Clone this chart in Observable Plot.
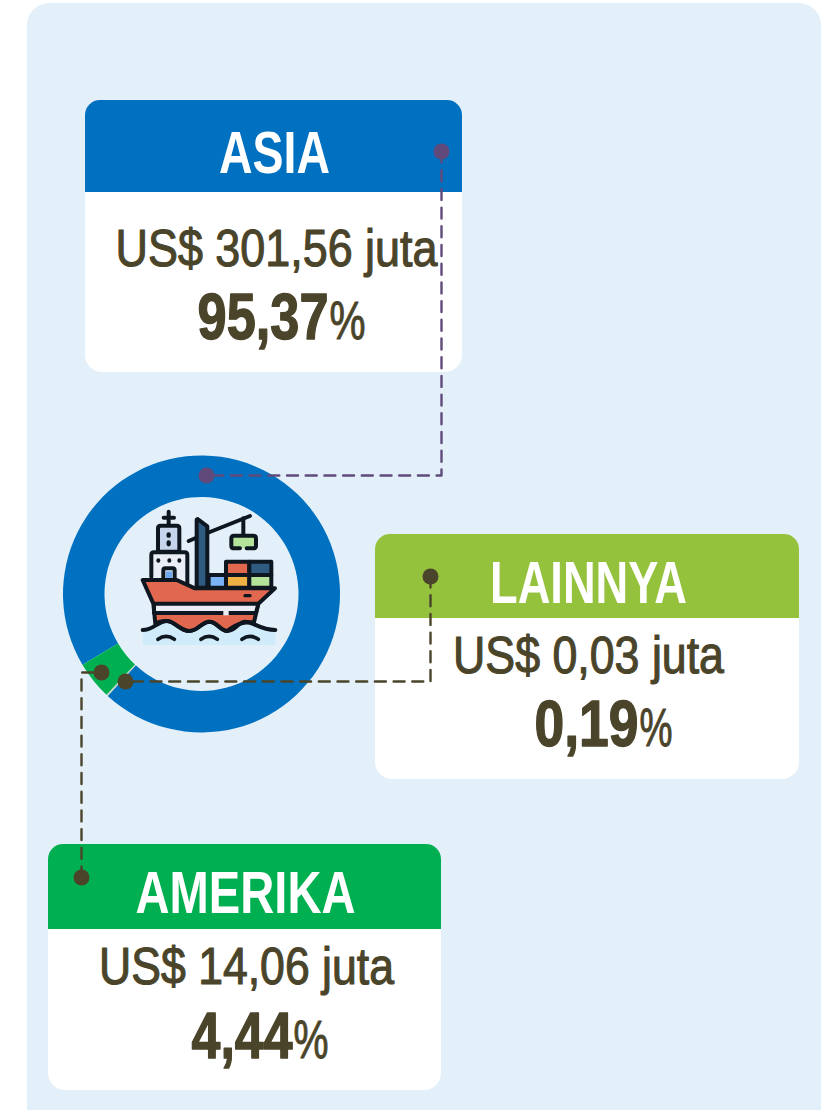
<!DOCTYPE html>
<html>
<head>
<meta charset="utf-8">
<style>
html,body{margin:0;padding:0;background:#fff;}
svg{display:block;}
</style>
<script src="https://cdn.jsdelivr.net/npm/d3@7"></script>
<script src="https://cdn.jsdelivr.net/npm/@observablehq/plot@0.6"></script>
</head>
<body>
<div id="chart"></div>
<script>
// --- chart values
const regions = ["ASIA", "LAINNYA", "AMERIKA"];
const amounts = ["US$ 301,56 juta", "US$ 0,03 juta", "US$ 14,06 juta"];
const percents = ["95,37", "0,19", "4,44"];
const shares = [95.37, 0.19, 4.44];

// --- styles
const colors = ["#0070c0", "#95c23d", "#00b050"];
const lineColors = ["#604a7b", "#4a442a", "#4a442a"];
const ink = "#4a442a";
const panelColor = "#e3f0fa";
const font = "'Liberation Sans',Arial,sans-serif";

// --- layout
const W = 821, H = 1110;
const cardX1 = [85, 375, 48], cardX2 = [462, 799, 441];
const cardY1 = [100, 534, 844], cardY2 = [372, 779, 1090];
const headY2 = [192, 618, 929];
const titleX = [274, 588, 245], titleY = [172, 602, 912], titleLen = [111, 197, 220];
const amountX = [276, 588, 246], amountY = [265, 672, 983], amountLen = [322, 271, 295];
const pctSplitX = [328, 638, 292], pctY = [338, 745, 1057], pctLen = [131, 104, 101], signLen = [36, 33, 35];
const routes = [
  {xs: [441, 441, 206], ys: [151, 475, 475]},
  {xs: [430, 430, 125], ys: [576, 681, 681]},
  {xs: [81, 81, 101], ys: [877, 672, 672]}
];
const ring = {cx: 201.5, cy: 594, r0: 97, r1: 138.5, start: 239.3};

const cards = regions.map((name, i) => ({name, amount: amounts[i], pct: percents[i], color: colors[i],
  x1: cardX1[i], x2: cardX2[i], y1: cardY1[i], y2: cardY2[i], h2: headY2[i],
  tx: titleX[i], ty: titleY[i], ax: amountX[i], ay: amountY[i], px: pctSplitX[i], py: pctY[i]}));
const routePts = routes.flatMap((r, i) => r.xs.map((x, j) => ({x, y: r.ys[j], i, color: lineColors[i]})));
const routeEnds = routePts.filter((d, k) => k % 3 !== 1);

function donut(index, scales) {
  const g = d3.create("svg:g");
  const pie = d3.pie().sort(null).value(d => d.v)
    .startAngle(ring.start * Math.PI / 180).endAngle((ring.start + 360) * Math.PI / 180);
  const arc = d3.arc().innerRadius(ring.r0).outerRadius(ring.r1);
  const slices = pie([{v: shares[0], c: colors[0]}, {v: shares[1], c: "#c9d6c4"}, {v: shares[2], c: colors[2]}]);
  g.attr("transform", `translate(${scales.x(ring.cx)},${scales.y(ring.cy)})`);
  g.selectAll("path").data(slices).join("path").attr("d", arc).attr("fill", d => d.data.c);
  return g.node();
}

// decorative ship pictogram (not data)
function ship() {
  const g = d3.create("svg:g").attr("transform", "translate(130,505) scale(0.3333)");
  const K = "#0e1720";
  const shape = (d, fill, sw = 12) => g.append("path").attr("d", d).attr("fill", fill)
    .attr("stroke", sw ? K : "none").attr("stroke-width", sw).attr("stroke-linejoin", "round").attr("stroke-linecap", "round");
  const wave = "M38,375 C70,375 85,348 110,348 C135,348 150,378 178,378 C205,378 215,350 238,350 C262,350 270,378 292,378 C318,378 325,350 345,350 C370,350 390,375 436,375";
  shape(wave + " V420 H38 Z", "#d0ecfa", 0);
  shape("M84,140 V70 Q84,62 92,62 H140 Q148,62 148,70 V140 Z", "#c6d4ec");
  shape("M116,20 V60 M101,38 H132", "none");
  shape("M116,88 V92 M116,112 V118", "none", 13);
  shape("M64,215 V150 Q64,142 72,142 H164 Q172,142 172,150 V235", "#eaedf6");
  shape("M85,166 V167 M118,166 V167 M148,166 V167", "none", 12);
  shape("M100,230 V196 Q100,190 106,190 H128 Q134,190 134,196 V230", "#eaedf6");
  g.append("rect").attr("x", 108).attr("y", 199).attr("width", 18).attr("height", 20).attr("fill", "#6fa8ef");
  shape("M176,108 L232,84 M232,84 L360,33", "none");
  shape("M203,42 L232,64 V248 H200 V44 Z", "#2f5b80");
  shape("M340,40 V92", "none");
  shape("M330,130 H312 Q304,130 304,122 V100 Q304,92 312,92 H370 Q378,92 378,100 V122 Q378,130 370,130 H350", "#b3e49a");
  shape("M236,210 H288 V248 H236 Z", "#7cb3f6");
  shape("M288,170 H358 V210 H288 Z", "#e2674f");
  shape("M358,170 H424 V210 H358 Z", "#2f5b80");
  shape("M288,210 H358 V248 H288 Z", "#f0b144");
  shape("M358,210 H424 V248 H358 Z", "#b3e49a");
  shape("M38,225 H140 L195,250 H435 L385,296 L372,352 C350,352 325,350 292,378 C270,378 262,350 238,350 C215,350 205,378 178,378 C150,378 135,348 110,348 C100,348 85,350 76,356 L70,296 Z", "#e2674f");
  shape("M72,296 H385 L378,324 H72 Z", "#eaedf6");
  g.append("rect").attr("x", 280).attr("y", 315).attr("width", 16).attr("height", 16).attr("fill", "#eaedf6");
  shape("M345,272 H360", "none", 10);
  shape(wave, "none");
  shape("M84,403 Q108,386 133,403 M213,403 Q237,386 262,403 M336,403 Q360,386 385,403", "none", 11);
  return g.node();
}

const textBase = {fontFamily: font, lineAnchor: "bottom", paintOrder: "stroke"};

const chart = Plot.plot({
  width: W, height: H,
  margin: 0,
  x: {domain: [0, W], range: [0, W], axis: null},
  y: {domain: [0, H], range: [0, H], axis: null},
  style: {background: "#ffffff", fontFamily: font},
  marks: [
    Plot.rect([0], {x1: 27, x2: 821, y1: 3, y2: 1130, fill: panelColor, rx: 22}),
    Plot.rect(cards, {x1: "x1", x2: "x2", y1: "y1", y2: "y2", fill: "#ffffff", rx: 17}),
    Plot.rect(cards, {x1: "x1", x2: "x2", y1: "y1", y2: "h2", fill: "color", rx: 15}),
    Plot.rect(cards, {x1: "x1", x2: "x2", y1: d => d.y1 + 20, y2: "h2", fill: "color"}),
    donut,
    ship,
    Plot.line(routePts, {x: "x", y: "y", z: "i", stroke: "color", strokeWidth: 2.4, strokeDasharray: "11 7.7", curve: "linear"}),
    Plot.dot(routeEnds, {x: "x", y: "y", r: 8, fill: "color", stroke: null}),
    Plot.text(cards, {...textBase, x: "tx", y: "ty", text: "name", fill: "#fff", fontSize: 59, fontWeight: 700, textAnchor: "middle"}),
    Plot.text(cards, {...textBase, x: "ax", y: "ay", text: "amount", fill: ink, stroke: ink, strokeWidth: 1.1, fontSize: 51, textAnchor: "middle"}),
    Plot.text(cards, {...textBase, x: "px", y: "py", text: "pct", fill: ink, stroke: ink, strokeWidth: 1.4, fontSize: 65, fontWeight: 700, textAnchor: "end"}),
    Plot.text(cards, {...textBase, x: d => d.px + 1, y: "py", text: () => "%", fill: ink, stroke: ink, strokeWidth: 1, fontSize: 54, textAnchor: "start"})
  ]
});
document.getElementById("chart").appendChild(chart);

// condense the text to the reference's narrow face: no narrow font is installed
const fit = [titleLen, amountLen, pctLen, signLen];
chart.querySelectorAll('g[aria-label="text"]').forEach((group, k) => {
  group.querySelectorAll("text").forEach((t, i) => {
    const sx = fit[k][i] / t.getComputedTextLength();
    const base = t.getAttribute("transform") || "";
    t.setAttribute("transform", `${base} scale(${sx},1)`);
  });
});
</script>
</body>
</html>
